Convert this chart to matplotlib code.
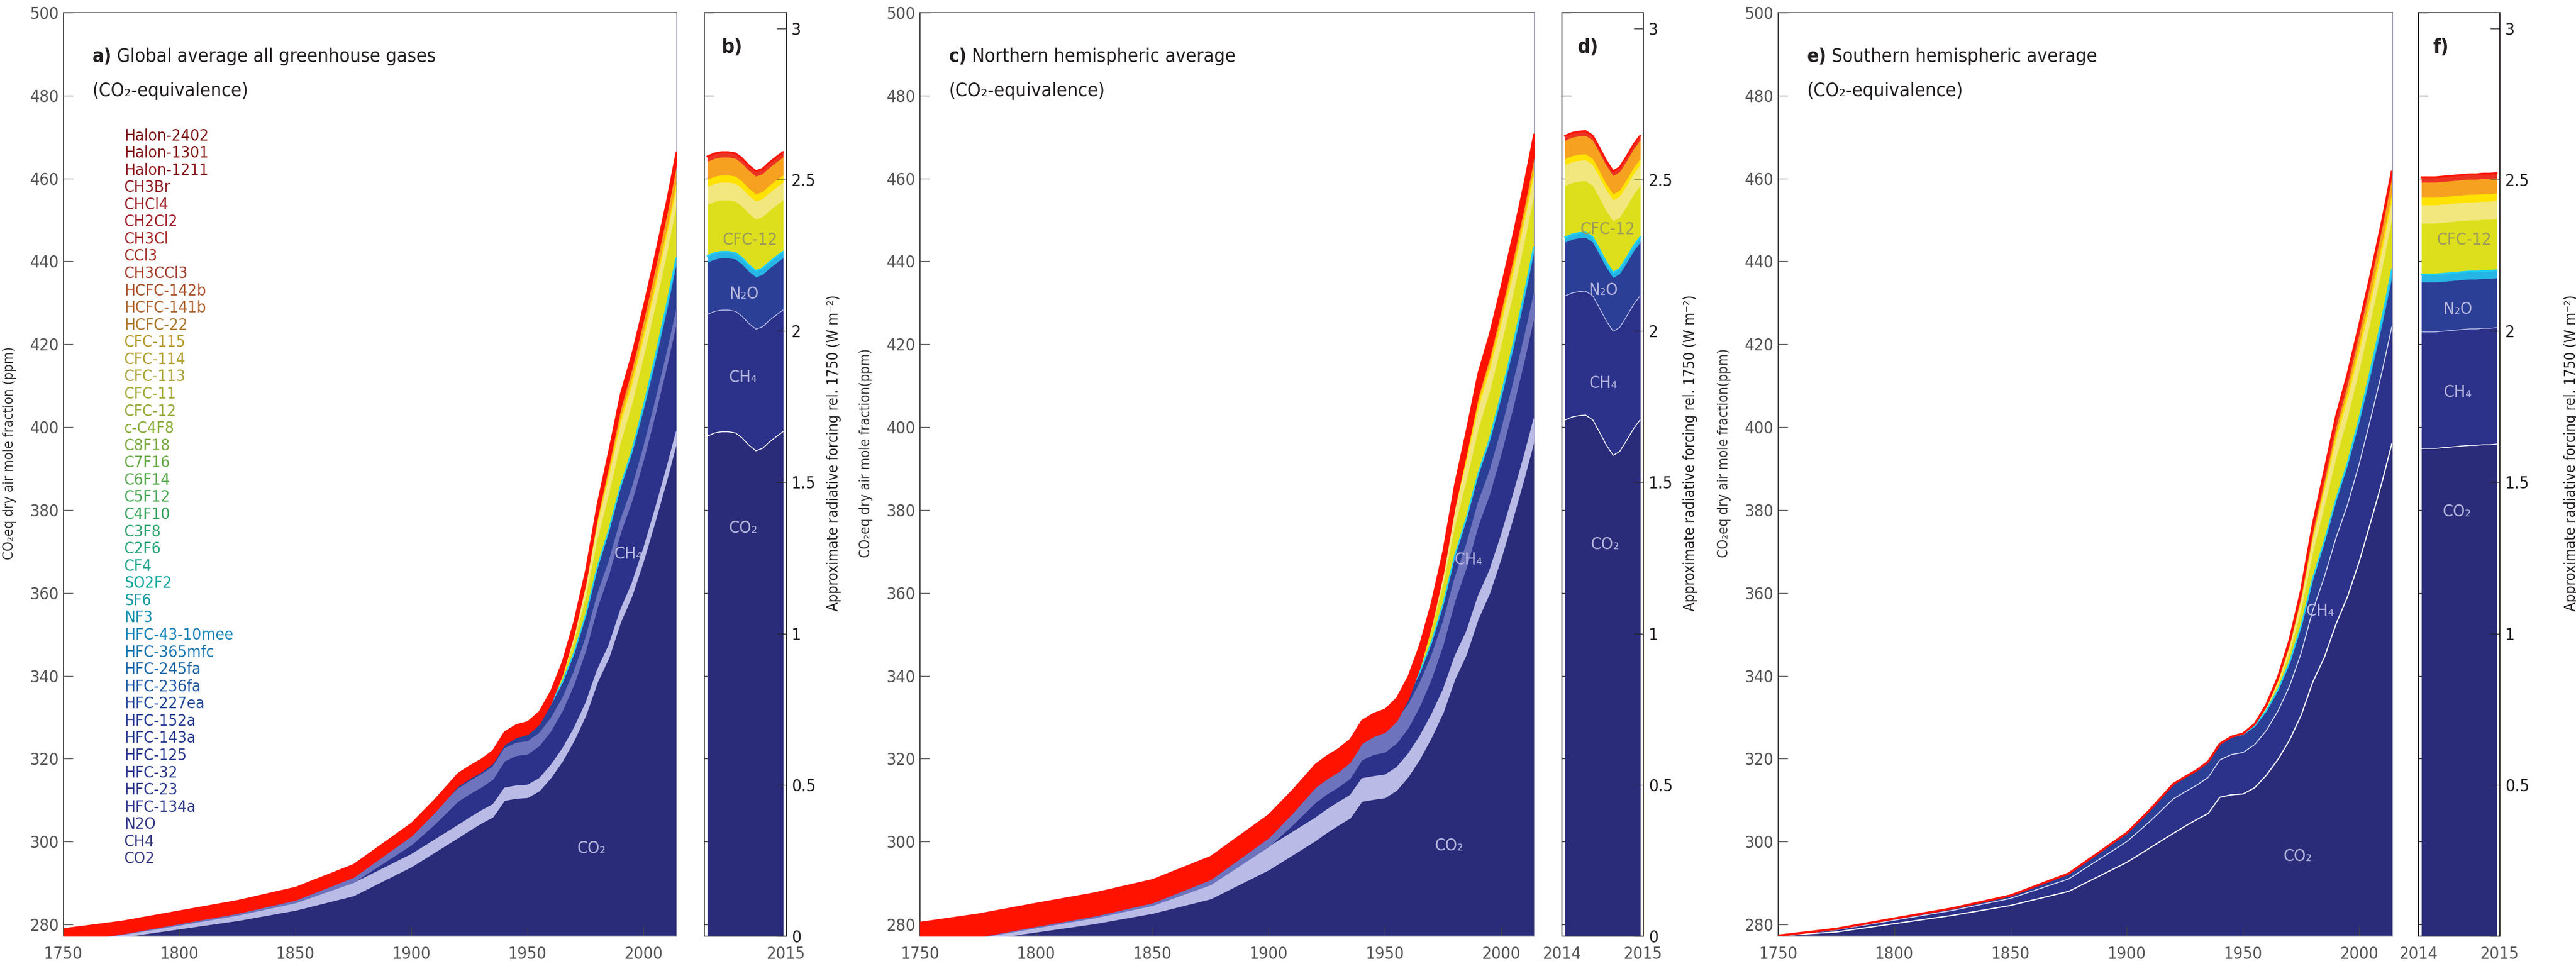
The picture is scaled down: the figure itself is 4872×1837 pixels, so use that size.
import os
import numpy as np
import matplotlib
matplotlib.use("Agg")
import matplotlib.pyplot as plt
from matplotlib import font_manager as fm
from matplotlib import transforms
from matplotlib.colors import LinearSegmentedColormap


def narrow_family():
    # pick a condensed face if one is installed, else plain DejaVu
    for fam in ['Liberation Sans Narrow', 'DejaVu Sans', 'Noto Sans', 'Open Sans', 'Roboto']:
        try:
            path = fm.findfont(fm.FontProperties(family=fam, stretch='condensed'),
                               fallback_to_default=False)
        except ValueError:
            continue
        name = os.path.basename(path).lower()
        if 'condensed' in name or 'narrow' in name:
            return fam, 'condensed'
    return 'DejaVu Sans', 'normal'


FAM, STRETCH = narrow_family()
plt.rcParams['font.family'] = [FAM, 'DejaVu Sans']
plt.rcParams['font.stretch'] = STRETCH

# ---------------- long records (CO2-eq ppm) ----------------
years = [1750, 1775, 1800, 1825, 1850, 1875, 1900, 1910, 1920, 1925, 1930, 1935, 1940, 1945,
         1950, 1955, 1960, 1965, 1970, 1975, 1980, 1985, 1990, 1995, 2000, 2005, 2010, 2014]
pre1950 = [0.0] * 14

# global average
co2_glob = [277.5, 278.5, 280.5, 282.5, 285.0, 288.5, 295.5, 299.0, 302.5, 304.3, 306.0, 307.5, 311.5, 312.0,
            312.2, 313.8, 317.0, 321.0, 326.0, 332.0, 340.0, 346.0, 354.5, 361.0, 369.5, 379.0, 389.0, 397.5]
ch4_glob = [0.0, 0.6, 0.9, 1.3, 1.8, 3.2, 5.3, 6.8, 8.8, 8.8, 8.7, 9.1, 9.5, 10.3,
            10.5, 10.9, 11.3, 12.2, 13.6, 15.7, 18.1, 20.2, 21.6, 23.0, 24.4, 25.8, 27.5, 29.1]
n2o_glob = [0.0, 0.2, 0.4, 0.5, 0.7, 1.3, 2.2, 2.9, 3.7, 3.7, 3.7, 3.9, 4.0, 4.4,
            4.5, 4.6, 4.9, 5.3, 5.9, 6.8, 7.9, 8.8, 9.4, 10.0, 10.6, 11.2, 12.0, 12.7]
hfc_glob = pre1950 + [0, 0, 0, 0, 0.05, 0.1, 0.15, 0.2, 0.25, 0.45, 0.7, 1.0, 1.3, 1.5]
cfc12_glob = pre1950 + [0.1, 0.3, 0.8, 1.8, 3.0, 4.6, 6.9, 9.0, 10.6, 11.4, 12.0, 12.3, 12.4, 12.5]
cfc11_glob = pre1950 + [0.05, 0.1, 0.4, 0.9, 1.7, 2.6, 3.6, 4.3, 4.7, 4.7, 4.6, 4.5, 4.4, 4.3]
cfc113_glob = pre1950 + [0, 0, 0.05, 0.1, 0.2, 0.4, 0.7, 1.1, 1.5, 1.6, 1.6, 1.6, 1.5, 1.5]
hcfc_glob = pre1950 + [0, 0, 0.05, 0.1, 0.3, 0.5, 0.8, 1.1, 1.5, 1.9, 2.5, 3.1, 3.7, 4.3]
other_glob = pre1950 + [0.1, 0.2, 0.4, 0.6, 0.95, 1.3, 1.8, 2.2, 2.5, 2.3, 2.0, 1.8, 1.6, 1.5]

# northern hemisphere
co2_nh = [277.8, 279.0, 281.0, 283.0, 285.5, 289.0, 296.0, 299.5, 303.0, 305.0, 306.8, 308.5, 312.5, 313.0,
          313.4, 315.2, 318.5, 322.8, 328.0, 334.0, 342.0, 348.0, 356.5, 362.8, 371.3, 380.8, 390.8, 399.3]
ch4_nh = [0.0, 0.6, 1.0, 1.4, 1.9, 3.4, 5.6, 7.2, 9.2, 9.3, 9.2, 9.6, 10.0, 10.8,
          11.0, 11.4, 11.8, 12.8, 14.2, 16.4, 18.9, 21.0, 22.5, 23.9, 25.3, 26.7, 28.4, 30.0]
n2o_nh = [0.0, 0.2, 0.4, 0.5, 0.7, 1.3, 2.2, 2.9, 3.7, 3.7, 3.7, 3.9, 4.0, 4.4,
          4.5, 4.6, 4.9, 5.3, 5.9, 6.8, 7.9, 8.8, 9.4, 10.0, 10.6, 11.2, 12.1, 12.9]
hfc_nh = pre1950 + [0, 0, 0, 0, 0.05, 0.1, 0.15, 0.2, 0.25, 0.45, 0.7, 0.95, 1.1, 1.2]
cfc12_nh = pre1950 + [0.15, 0.4, 1.0, 2.1, 3.4, 5.0, 7.3, 9.3, 10.8, 11.6, 12.1, 12.4, 12.5, 12.5]
cfc11_nh = pre1950 + [0.07, 0.15, 0.5, 1.1, 2.0, 2.9, 3.9, 4.6, 5.1, 5.2, 5.2, 5.1, 5.1, 5.05]
cfc113_nh = pre1950 + [0, 0, 0.05, 0.1, 0.2, 0.4, 0.7, 1.1, 1.5, 1.6, 1.6, 1.6, 1.5, 1.5]
hcfc_nh = pre1950 + [0, 0, 0.05, 0.1, 0.3, 0.5, 0.8, 1.2, 1.6, 2.0, 2.7, 3.3, 3.9, 4.5]
other_nh = pre1950 + [0.1, 0.2, 0.4, 0.6, 1.0, 1.4, 1.9, 2.3, 2.6, 2.3, 1.9, 1.5, 1.2, 1.0]

# southern hemisphere
co2_sh = [277.3, 278.2, 280.2, 282.2, 284.6, 288.0, 295.0, 298.5, 302.0, 303.7, 305.3, 306.8, 310.7, 311.3,
          311.5, 313.0, 316.0, 319.8, 324.5, 330.5, 338.5, 344.5, 352.5, 359.2, 367.6, 377.3, 387.2, 396.0]
ch4_sh = [0.0, 0.55, 0.85, 1.2, 1.7, 3.0, 5.0, 6.4, 8.3, 8.3, 8.3, 8.7, 9.0, 9.7,
          10.0, 10.4, 10.8, 11.7, 13.0, 15.0, 17.3, 19.4, 20.8, 22.2, 23.6, 25.0, 26.7, 28.2]
n2o_sh = [0.0, 0.2, 0.4, 0.5, 0.7, 1.3, 2.1, 2.8, 3.6, 3.6, 3.6, 3.8, 3.9, 4.3,
          4.4, 4.5, 4.8, 5.1, 5.7, 6.5, 7.6, 8.5, 9.1, 9.7, 10.3, 10.9, 11.6, 12.1]
hfc_sh = pre1950 + [0, 0, 0, 0, 0.05, 0.1, 0.1, 0.15, 0.2, 0.4, 0.7, 1.0, 1.4, 1.8]
cfc12_sh = pre1950 + [0.05, 0.2, 0.6, 1.5, 2.6, 4.2, 6.5, 8.6, 10.3, 11.2, 11.9, 12.2, 12.3, 12.4]
cfc11_sh = pre1950 + [0.03, 0.08, 0.3, 0.7, 1.4, 2.3, 3.3, 4.0, 4.4, 4.5, 4.5, 4.4, 4.4, 4.4]
cfc113_sh = pre1950 + [0, 0, 0.05, 0.1, 0.2, 0.4, 0.7, 1.1, 1.5, 1.7, 1.8, 1.8, 1.8, 1.8]
hcfc_sh = pre1950 + [0, 0, 0.05, 0.1, 0.2, 0.4, 0.7, 1.0, 1.3, 1.7, 2.3, 2.8, 3.3, 3.7]
other_sh = pre1950 + [0.1, 0.2, 0.35, 0.55, 0.9, 1.2, 1.7, 2.1, 2.4, 2.2, 1.9, 1.6, 1.4, 1.2]

# peak-to-peak seasonal swing of the monthly records (ppm)
swing_glob = 3.0
swing_nh = 5.5
swing_sh = 0.0

# ---------------- 2014 monthly, radiative forcing (W m-2) ----------------
month_pos = [2014.04, 2014.13, 2014.21, 2014.29, 2014.38, 2014.46,
             2014.54, 2014.63, 2014.71, 2014.79, 2014.88, 2014.96]
rf_co2_glob = [1.653, 1.663, 1.667, 1.667, 1.663, 1.647, 1.624, 1.604, 1.612, 1.632, 1.651, 1.667]
rf_co2_nh = [1.706, 1.716, 1.720, 1.722, 1.706, 1.667, 1.626, 1.589, 1.602, 1.636, 1.677, 1.706]
rf_co2_sh = [1.612, 1.612, 1.612, 1.614, 1.616, 1.618, 1.620, 1.622, 1.622, 1.624, 1.624, 1.626]
# CH4, N2O, HFC/PFC/SF6, CFC-12, CFC-11, CFC-113, HCFCs, others
rf_rest_glob = [0.402, 0.173, 0.020, 0.171, 0.059, 0.024, 0.059, 0.016]
rf_rest_nh = [0.410, 0.178, 0.016, 0.171, 0.069, 0.020, 0.061, 0.014]
rf_rest_sh = [0.385, 0.165, 0.025, 0.170, 0.060, 0.025, 0.050, 0.016]

# species list, top to bottom as listed in panel a
species = ['Halon-2402', 'Halon-1301', 'Halon-1211', 'CH3Br', 'CHCl4', 'CH2Cl2', 'CH3Cl', 'CCl3',
           'CH3CCl3', 'HCFC-142b', 'HCFC-141b', 'HCFC-22', 'CFC-115', 'CFC-114', 'CFC-113',
           'CFC-11', 'CFC-12', 'c-C4F8', 'C8F18', 'C7F16', 'C6F14', 'C5F12', 'C4F10', 'C3F8',
           'C2F6', 'CF4', 'SO2F2', 'SF6', 'NF3', 'HFC-43-10mee', 'HFC-365mfc', 'HFC-245fa',
           'HFC-236fa', 'HFC-227ea', 'HFC-152a', 'HFC-143a', 'HFC-125', 'HFC-32', 'HFC-23',
           'HFC-134a', 'N2O', 'CH4', 'CO2']

# ---------------- styling ----------------
FILLS = ['#2a2c79', '#2c3189', '#2c3f97', '#25b6e6', '#dedf1c', '#f2e77e', '#ffe200', '#f6a11f', '#ec3223']
CO2_LINE = '#b9bbe6'
CH4_LINE = '#6d73bd'
CYAN = '#1fd0ff'
RED = '#ff1200'
GREY_TXT = '#555555'
DARK = '#231f20'
LAV = '#b5b5dd'
TICK_FS = 23

name_cmap = LinearSegmentedColormap.from_list('gases', [
    (0.0, '#3a3b86'), (0.19, '#283d94'), (0.31, '#1a86b8'), (0.38, '#14a79c'),
    (0.476, '#3aa660'), (0.595, '#8aae3c'), (0.643, '#a3ab38'), (0.714, '#b89a30'),
    (0.738, '#b07a30'), (0.81, '#a8402a'), (0.88, '#a3222a'), (1.0, '#7a1416')])

W, H = 4872, 1837
Y_TOP, Y_BOT = 24, 1771
PPM_LO, PPM_HI = 277.2, 500
RF_HI = 3.052

fig = plt.figure(figsize=(W / 100, H / 100), dpi=100)


def panel(x0, x1):
    return fig.add_axes([x0 / W, (H - Y_BOT) / H, (x1 - x0) / W, (Y_BOT - Y_TOP) / H])


def heading(ax, x, y, tag, rest, fs=26):
    t = ax.text(x, y, tag, transform=ax.transAxes, fontsize=fs, fontweight='bold',
                color=DARK, va='baseline')
    if rest:
        ax.annotate(rest, xy=(1, 0), xycoords=t, xytext=(7, 0), textcoords='offset points',
                    fontsize=fs, color=DARK, va='bottom', ha='left')


def draw_long(ax, co2, rest, swing, tag, title, lab_ch4, lab_co2, ylab):
    yrs = np.array(years, float)
    lower = np.array(co2, float)
    ax.fill_between(yrs, PPM_LO - 5, lower, color=FILLS[0], lw=0.6, ec=FILLS[0])
    tops = [lower]
    for vals, col in zip(rest, FILLS[1:]):
        upper = lower + np.array(vals, float)
        ax.fill_between(yrs, lower, upper, color=col, lw=0.6, ec=col)
        tops.append(upper)
        lower = upper
    total = tops[-1]
    if swing > 0:
        for line, col in [(tops[0], CO2_LINE), (tops[1], CH4_LINE)]:
            ax.fill_between(yrs, line - swing / 2, line + swing / 2, color=col, lw=1.2, ec=col, zorder=3)
        ax.plot(yrs, tops[3], color=CYAN, lw=1.8, zorder=4)
        ax.fill_between(yrs, total - swing / 2, total + swing / 2, color=RED, lw=2.0, ec=RED, zorder=5)
    else:
        ax.plot(yrs, tops[0], color='white', lw=1.6, zorder=3)
        ax.plot(yrs, tops[1], color='#d8daf4', lw=1.3, zorder=3)
        ax.plot(yrs, tops[3], color=CYAN, lw=2.0, zorder=4)
        ax.plot(yrs, total, color=RED, lw=3.0, zorder=5)

    ax.set_xlim(1750, 2014.3)
    ax.set_ylim(PPM_LO, PPM_HI)
    ax.set_xticks([1750, 1800, 1850, 1900, 1950, 2000])
    ax.set_yticks(range(280, 501, 20))
    ax.tick_params(axis='both', direction='in', length=13, width=1.0, color='#444444',
                   labelsize=TICK_FS, labelcolor=GREY_TXT)
    ax.tick_params(axis='y', pad=6)
    ax.tick_params(axis='x', pad=14)
    for side, col in [('left', '#333333'), ('top', '#333333'), ('bottom', '#999999'), ('right', '#9a9ab4')]:
        ax.spines[side].set_color(col)
        ax.spines[side].set_linewidth(1.3)
    ax.set_ylabel(ylab, fontsize=19, color='#333333')
    ax.yaxis.set_label_coords(-0.077, 0.523)

    heading(ax, 0.047, 0.9468, tag, title)
    ax.text(0.047, 0.9096, '(CO\u2082-equivalence)', transform=ax.transAxes, fontsize=26,
            color=DARK, va='baseline')
    ax.text(lab_ch4[0], lab_ch4[1], 'CH\u2084', fontsize=23, color=LAV, ha='center', va='center', zorder=6)
    ax.text(lab_co2[0], lab_co2[1], 'CO\u2082', fontsize=23, color=LAV, ha='center', va='center', zorder=6)


def draw_year(ax, co2_m, rest, tag, tag_x, xlabels, labs, show_zero=True, ylab_x=1.49):
    ax.set_xlim(2014, 2015)
    ax.set_ylim(PPM_LO, PPM_HI)
    ax.set_yticks(range(280, 501, 20))
    ax.set_yticklabels([])
    ax.tick_params(axis='y', direction='in', length=13, width=1.0, color=DARK)
    ax.set_xticks([2014, 2015])
    ax.set_xticklabels(xlabels)
    ax.tick_params(axis='x', direction='in', length=0, pad=14, labelsize=TICK_FS, labelcolor=GREY_TXT)

    ax2 = ax.twinx()
    ax2.set_ylim(0, RF_HI)
    lower = np.array(co2_m, float)
    ax2.fill_between(month_pos, 0, lower, color=FILLS[0], lw=0.6, ec=FILLS[0])
    tops = [lower]
    for val, col in zip(rest, FILLS[1:]):
        upper = lower + val
        ax2.fill_between(month_pos, lower, upper, color=col, lw=0.6, ec=col)
        tops.append(upper)
        lower = upper
    ax2.plot(month_pos, tops[0], color='white', lw=1.2)
    ax2.plot(month_pos, tops[1], color='#c9cbee', lw=1.0)
    ax2.plot(month_pos, tops[3], color=CYAN, lw=2.2)
    ax2.plot(month_pos, tops[-1], color=RED, lw=2.5)

    ticks = [0, 0.5, 1, 1.5, 2, 2.5, 3]
    ax2.set_yticks(ticks)
    ax2.set_yticklabels([('0' if show_zero else '') if t == 0 else f'{t:g}' for t in ticks])
    ax2.tick_params(axis='y', direction='in', length=13, width=1.0, color=DARK,
                    labelsize=TICK_FS, labelcolor=DARK, pad=7)
    ax2.set_ylabel('Approximate radiative forcing rel. 1750 (W m\u207b\u00b2)', fontsize=20, color=DARK)
    ax2.yaxis.set_label_coords(ylab_x, 0.523)
    for a in (ax, ax2):
        for s in a.spines.values():
            s.set_color(DARK)
            s.set_linewidth(1.3)

    heading(ax, tag_x, 0.9565, tag, None, fs=27)
    tr = transforms.blended_transform_factory(ax2.transAxes, ax2.transData)
    names = ['CFC-12', 'N\u2082O', 'CH\u2084', 'CO\u2082']
    cols = ['#9c9c58', LAV, LAV, LAV]
    for (x, y), txt, col in zip(labs, names, cols):
        ax2.text(x, y, txt, transform=tr, fontsize=23, color=col, ha='center', va='center')


ylab_ppm = 'CO\u2082eq dry air mole fraction (ppm)'
ylab_ppm2 = 'CO\u2082eq dry air mole fraction(ppm)'

# a) global
ax_a = panel(120, 1280)
draw_long(ax_a, co2_glob, [ch4_glob, n2o_glob, hfc_glob, cfc12_glob, cfc11_glob, cfc113_glob,
                           hcfc_glob, other_glob], swing_glob,
          'a)', 'Global average all greenhouse gases', (1993.4, 369.4), (1977.4, 298.3), ylab_ppm)
# species names, coloured along the stack
for i, name in enumerate(species):
    y_px = 257 + i * 32.57
    frac = (len(species) - 1 - i) / (len(species) - 1)
    ax_a.text(0.099, (Y_BOT - y_px) / (Y_BOT - Y_TOP), name, transform=ax_a.transAxes,
              fontsize=22, color=name_cmap(frac), va='center', ha='left')

ax_b = panel(1332, 1487)
draw_year(ax_b, rf_co2_glob, rf_rest_glob, 'b)', 0.21, ['', '2015'],
          [(0.555, 2.30), (0.484, 2.122), (0.471, 1.845), (0.471, 1.347)])

# c) northern hemisphere
ax_c = panel(1740, 2902)
draw_long(ax_c, co2_nh, [ch4_nh, n2o_nh, hfc_nh, cfc12_nh, cfc11_nh, cfc113_nh, hcfc_nh, other_nh],
          swing_nh, 'c)', 'Northern hemispheric average', (1986.0, 368.0), (1977.6, 299.0), ylab_ppm2)

ax_d = panel(2954, 3108)
draw_year(ax_d, rf_co2_nh, rf_rest_nh, 'd)', 0.19, ['2014', '2015'],
          [(0.558, 2.334), (0.506, 2.134), (0.506, 1.826), (0.526, 1.293)])

# e) southern hemisphere
ax_e = panel(3363, 4525)
draw_long(ax_e, co2_sh, [ch4_sh, n2o_sh, hfc_sh, cfc12_sh, cfc11_sh, cfc113_sh, hcfc_sh, other_sh],
          swing_sh, 'e)', 'Southern hemispheric average', (1983.1, 355.6), (1973.5, 296.4), ylab_ppm2)

ax_f = panel(4574, 4728)
draw_year(ax_f, rf_co2_sh, rf_rest_sh, 'f)', 0.18, ['2014', '2015'],
          [(0.558, 2.30), (0.48, 2.071), (0.48, 1.796), (0.474, 1.402)],
          show_zero=False, ylab_x=1.786)

fig.savefig('out.png', dpi=100)
